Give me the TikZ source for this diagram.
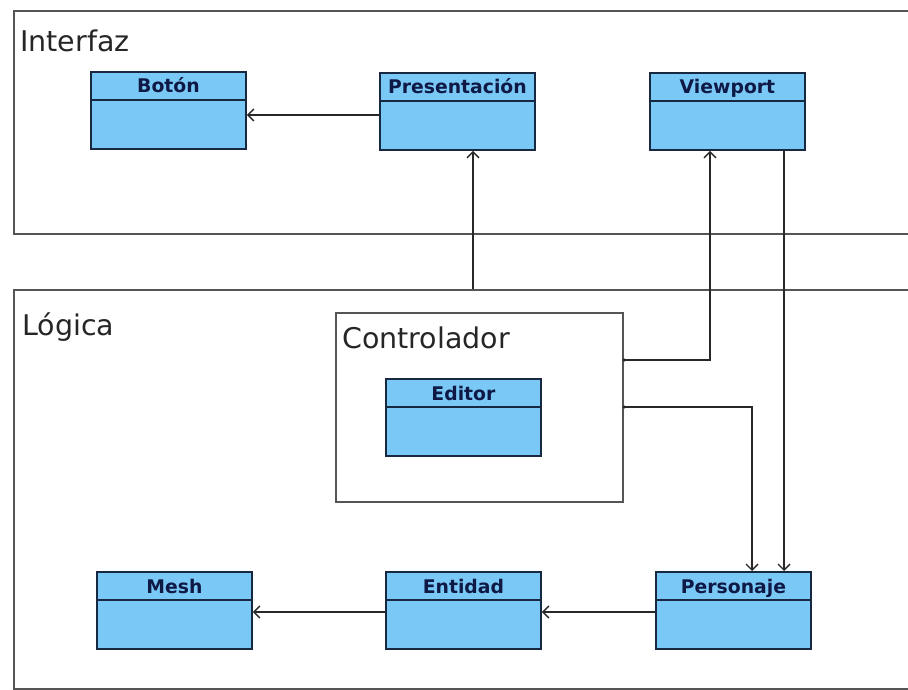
\documentclass[tikz,border=0pt]{standalone}
\usepackage{fontspec}
\setmainfont{DejaVu Sans}
\usetikzlibrary{arrows.meta,calc}
\definecolor{classfill}{RGB}{122,200,245}
\definecolor{classline}{RGB}{25,40,65}
\definecolor{titlecol}{RGB}{15,25,70}
\definecolor{pkgline}{RGB}{85,85,85}
\definecolor{connline}{RGB}{40,40,40}
\newcommand\umlclass[4]{%
  \node[classbox] (#1) at (#2,#3) {};
  \draw[classline, line width=1.8pt] ([yshift=-29pt]#1.north west) -- ([yshift=-29pt]#1.north east);
  \node[classtitle] (#1t) at ([yshift=-22pt]#1.north) {#4};
}
\begin{document}
\begin{tikzpicture}[x=1pt,y=-1pt,
  classbox/.style={draw=classline, line width=1.9pt, fill=classfill, minimum width=155pt, minimum height=77pt, inner sep=0pt, anchor=north west},
  classtitle/.style={anchor=base, inner sep=0pt, text=titlecol, font=\fontsize{18.8}{22}\selectfont\bfseries},
  pkg/.style={draw=pkgline, line width=2.2pt, inner sep=0pt, anchor=north west},
  pkgtitle/.style={anchor=base west, inner sep=0pt, text=black!85, font=\fontsize{28.5}{32}\selectfont},
  conn/.style={draw=connline, line width=1.6pt},
  arr/.style={conn, -{Straight Barb[length=6pt,width=12pt,line width=1.4pt]}},
  dotc/.style={circle, fill=connline, inner sep=0pt, minimum size=3.5pt}]
\useasboundingbox (0,0) rectangle (908,690);
\clip (0,0) rectangle (908,690);
\fill[white] (0,0) rectangle (908,690);
% packages
\node[pkg, minimum width=905pt, minimum height=223pt] (interfaz) at (13,10) {};
\node[pkgtitle] (interfazt) at (20,52) {Interfaz};
\node[pkg, minimum width=905pt, minimum height=399pt] (logica) at (13,289) {};
\node[pkgtitle] (logicat) at (22,335) {Lógica};
\node[pkg, minimum width=287pt, minimum height=189pt] (ctrl) at (335,312) {};
\node[pkgtitle] (ctrlt) at (342,348) {Controlador};
% classes
\umlclass{boton}{90}{71}{Botón}
\umlclass{pres}{379}{72}{Presentación}
\umlclass{vp}{649}{72}{Viewport}
\umlclass{editor}{385}{378}{Editor}
\umlclass{mesh}{96}{571}{Mesh}
\umlclass{ent}{385}{571}{Entidad}
\umlclass{pers}{655}{571}{Personaje}
% connector end points
\coordinate (lgtop) at (logica.north west -| 473,0);
\coordinate (c1) at (ctrl.north east |- 0,360);
\coordinate (c2) at (ctrl.north east |- 0,407);
\coordinate (pa) at ($(pres.west)+(0,3.5)$);
\coordinate (pe) at ($(pers.west)+(0,1.5)$);
\coordinate (ee) at ($(ent.west)+(0,1.5)$);
\node[dotc] (c1d) at (c1) {};
\node[dotc] (c2d) at (c2) {};
% connectors
\draw[arr] (pa) -- (pa -| boton.east);
\draw[arr] (lgtop) -- (lgtop |- pres.south);
\draw[arr] (c1) -| (vp.south -| 710,0);
\draw[arr] (c2) -| (pers.north -| 752,0);
\draw[arr] (vp.south -| 784,0) -- (pers.north -| 784,0);
\draw[arr] (pe) -- (pe -| ent.east);
\draw[arr] (ee) -- (ee -| mesh.east);
\end{tikzpicture}
\end{document}
